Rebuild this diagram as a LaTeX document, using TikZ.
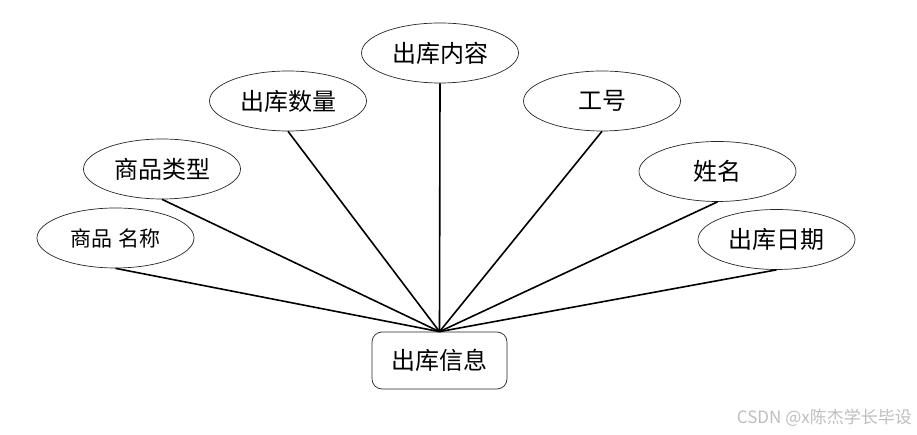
\documentclass[tikz,border=0pt]{standalone}
\usepackage{fontspec}
\newfontfamily\cjk{Noto Sans CJK SC}
\usetikzlibrary{shapes.geometric}
\definecolor{wm}{RGB}{190,190,190}
\begin{document}
\begin{tikzpicture}[x=1pt,y=1pt,
  attr/.style={ellipse,draw=black!85,line width=0.7pt,minimum width=157pt,minimum height=60pt,inner sep=0pt,font=\cjk\fontsize{24}{26}\selectfont},
  ent/.style={rectangle,rounded corners=10pt,draw=black!85,line width=0.7pt,minimum width=135pt,minimum height=57pt,inner sep=0pt,font=\cjk\fontsize{24}{26}\selectfont},
  link/.style={line width=1.6pt,black}]
\useasboundingbox (0,0) rectangle (917,435);
\node[ent] (hub) at (439.5,74.5) {出库信息};
\node[attr] (nr) at (440,382) {出库内容};
\node[attr] (sl) at (288,334) {出库数量};
\node[attr] (lx) at (162,266) {商品类型};
\node[attr,font=\cjk\fontsize{21}{23}\selectfont] (mc) at (115.5,197) {商品\hspace{6pt}名称};
\node[attr] (gh) at (602,334) {工号};
\node[attr] (xm) at (717.5,263.5) {姓名};
\node[attr] (rq) at (776.5,195.5) {出库日期};
\foreach \n in {nr,sl,lx,mc,gh,xm,rq}{\draw[link] (\n.south) -- (hub.north);}
\node[anchor=east,inner sep=0pt,text=wm,font=\cjk\fontsize{17}{19}\selectfont] (wmk) at (912,17) {CSDN @x陈杰学长毕设};
\end{tikzpicture}
\end{document}
